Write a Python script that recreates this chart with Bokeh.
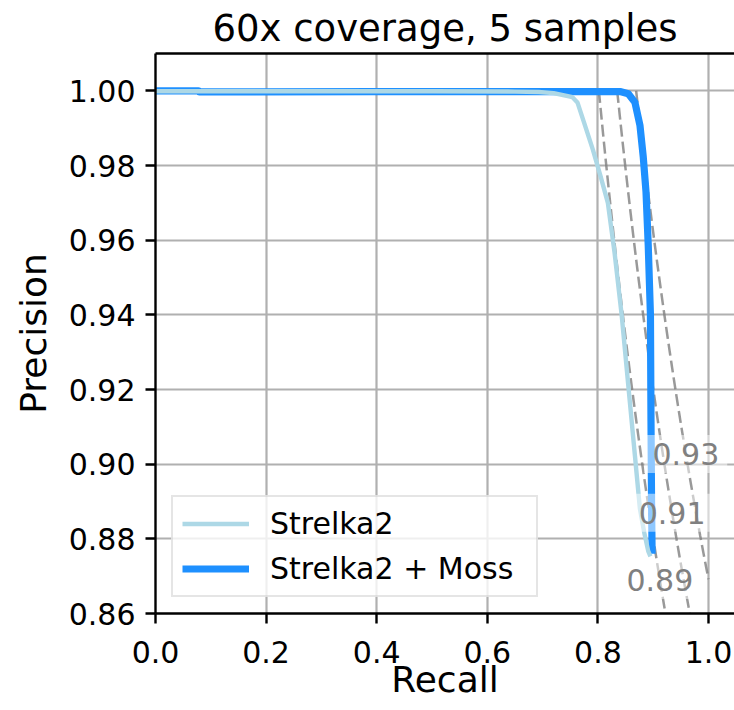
from bokeh.plotting import figure
from bokeh.models import Range1d, Legend, LegendItem, Label, LinearAxis, FixedTicker
from bokeh.embed import file_html
from bokeh.resources import INLINE
import numpy as np

FONT = "DejaVu Sans"

# Precision-recall curves
recall_strelka2 = [0.0, 0.08, 0.30, 0.50, 0.65, 0.693, 0.72, 0.754, 0.763, 0.775,
                   0.791, 0.805, 0.818, 0.830, 0.843, 0.855, 0.867, 0.876, 0.884,
                   0.891, 0.895]
precision_strelka2 = [0.9999, 0.9999, 0.9999, 0.9999, 0.9998, 0.9997, 0.9994, 0.9983,
                      0.9969, 0.9915, 0.9842, 0.9770, 0.9700, 0.9568, 0.9399, 0.9210,
                      0.9022, 0.8880, 0.8815, 0.8767, 0.8753]

recall_moss = [0.0, 0.078, 0.079, 0.40, 0.70, 0.80, 0.840, 0.855, 0.867, 0.876,
               0.882, 0.887, 0.891, 0.895, 0.896, 0.897, 0.898]
precision_moss = [1.0000, 1.0000, 0.9997, 0.9998, 0.9998, 0.9998, 0.9998, 0.9992,
                  0.9969, 0.9908, 0.9823, 0.9729, 0.9587, 0.9399, 0.9116, 0.8900,
                  0.8760]

# Iso-F1 reference curves and where their labels sit (by precision)
f_scores = [0.89, 0.91, 0.93]
f_label_precision = [0.869, 0.887, 0.9027]

x_ticks = [0.0, 0.2, 0.4, 0.6, 0.8, 1.0]
x_tick_labels = ["0.0", "0.2", "0.4", "0.6", "0.8", "1.0"]
y_ticks = [0.86, 0.88, 0.90, 0.92, 0.94, 0.96, 0.98, 1.00]
y_tick_labels = ["0.86", "0.88", "0.90", "0.92", "0.94", "0.96", "0.98", "1.00"]

p = figure(width=734, height=710,
           x_range=Range1d(0.0, 1.047), y_range=Range1d(0.86, 1.01),
           output_backend="svg", toolbar_location=None,
           min_border_left=155, min_border_right=0,
           min_border_top=0, min_border_bottom=97,
           title="60x coverage, 5 samples")

p.outline_line_color = None
p.background_fill_color = "white"
p.border_fill_color = "white"

p.title.text_font = FONT
p.title.text_font_size = "37px"
p.title.text_font_style = "normal"
p.title.align = "center"
p.title.text_color = "black"
p.title.standoff = 8

# Axes
xax = p.below[0]
yax = p.left[0]
for ax in (xax, yax):
    ax.axis_line_width = 2.4
    ax.axis_line_color = "black"
    ax.major_tick_line_width = 2.4
    ax.major_tick_line_color = "black"
    ax.major_tick_out = 10
    ax.major_tick_in = 0
    ax.minor_tick_line_color = None
    ax.major_label_text_font = FONT
    ax.major_label_text_font_size = "30px"
    ax.major_label_text_color = "black"
    ax.axis_label_text_font = FONT
    ax.axis_label_text_font_size = "36px"
    ax.axis_label_text_font_style = "normal"
    ax.axis_label_text_color = "black"

xax.ticker = FixedTicker(ticks=x_ticks)
xax.major_label_overrides = dict(zip(x_ticks, x_tick_labels))
xax.axis_label = "Recall"
xax.major_label_standoff = 17
xax.axis_label_standoff = -7

yax.ticker = FixedTicker(ticks=y_ticks)
yax.major_label_overrides = dict(zip(y_ticks, y_tick_labels))
yax.axis_label = "Precision"
yax.major_label_standoff = 10
yax.axis_label_standoff = 12

# Top spine
top = LinearAxis(ticker=FixedTicker(ticks=[]), axis_line_width=2.4,
                 axis_line_color="black", major_tick_out=0, major_tick_in=0,
                 minor_tick_out=0, minor_tick_in=0,
                 major_label_standoff=0, axis_label_standoff=0)
p.add_layout(top, "above")

p.xgrid.ticker = FixedTicker(ticks=x_ticks)
p.ygrid.ticker = FixedTicker(ticks=y_ticks)
p.grid.grid_line_color = "#b0b0b0"
p.grid.grid_line_width = 2.2

# Iso-F1 dashed curves
for f in f_scores:
    r = np.linspace(f / (2 - f), 1.0, 200)
    prec = f * r / (2 * r - f)
    p.line(r, prec, line_color="gray", line_alpha=0.8, line_width=2.5,
           line_dash="12 5")

moss = p.line(recall_moss, precision_moss, line_color="#1E90FF", line_width=7.2,
              line_join="round")
strelka = p.line(recall_strelka2, precision_strelka2, line_color="#ADD8E6",
                 line_width=4.4, line_join="round")

# Iso-F1 labels on translucent white boxes
for f, lp in zip(f_scores, f_label_precision):
    lr = f * lp / (2 * lp - f)
    p.add_layout(Label(x=lr, y=lp, text=f"{f:.2f}", text_align="center",
                       text_baseline="middle", text_font=FONT,
                       text_font_size="30px", text_color="gray",
                       background_fill_color="white", background_fill_alpha=0.5,
                       padding=8))

legend = Legend(items=[LegendItem(label="Strelka2", renderers=[strelka]),
                       LegendItem(label="Strelka2 + Moss", renderers=[moss])],
                location=(16, 16))
legend.label_text_font = FONT
legend.label_text_font_size = "30px"
legend.label_text_color = "black"
legend.glyph_width = 67
legend.glyph_height = 35
legend.label_height = 35
legend.label_width = 257
legend.label_standoff = 21
legend.spacing = 10
legend.padding = 9
legend.margin = 0
legend.border_line_color = "#cccccc"
legend.border_line_width = 2
legend.background_fill_color = "white"
legend.background_fill_alpha = 0.8
p.add_layout(legend)

open("out.html", "w").write(file_html(p, INLINE))
